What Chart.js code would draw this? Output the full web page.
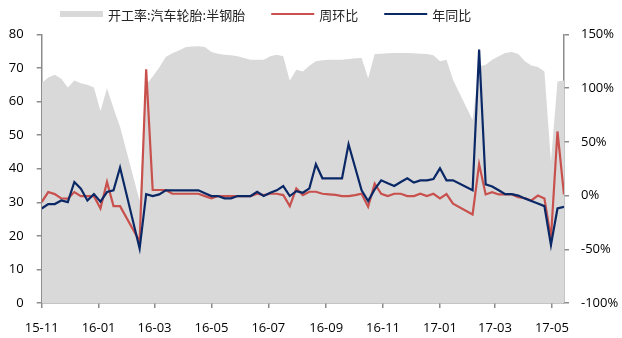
<!DOCTYPE html>
<html lang="zh-CN">
<head>
<meta charset="utf-8">
<title>开工率:汽车轮胎:半钢胎</title>
<script src="https://cdn.jsdelivr.net/npm/chart.js@4/dist/chart.umd.min.js"></script>
<style>
  html, body { margin: 0; padding: 0; background: #ffffff; }
  canvas { display: block; }
</style>
</head>
<body>
<canvas id="chart" width="622" height="338"></canvas>
<script>
// Weekly observation dates (Spring Festival weeks are not reported)
const weekDates = [
  '2015-11-06','2015-11-13','2015-11-20','2015-11-27','2015-12-04','2015-12-11','2015-12-18','2015-12-25',
  '2016-01-01','2016-01-08','2016-01-15','2016-01-22','2016-01-29','2016-02-19','2016-02-26',
  '2016-03-04','2016-03-11','2016-03-18','2016-03-25','2016-04-01','2016-04-08','2016-04-15','2016-04-22','2016-04-29',
  '2016-05-06','2016-05-13','2016-05-20','2016-05-27','2016-06-03','2016-06-10','2016-06-17','2016-06-24',
  '2016-07-01','2016-07-08','2016-07-15','2016-07-22','2016-07-29','2016-08-05','2016-08-12','2016-08-19','2016-08-26',
  '2016-09-02','2016-09-09','2016-09-16','2016-09-23','2016-09-30','2016-10-07','2016-10-14','2016-10-21','2016-10-28',
  '2016-11-04','2016-11-11','2016-11-18','2016-11-25','2016-12-02','2016-12-09','2016-12-16','2016-12-23','2016-12-30',
  '2017-01-06','2017-01-13','2017-01-20','2017-02-10','2017-02-17','2017-02-24',
  '2017-03-03','2017-03-10','2017-03-17','2017-03-24','2017-03-31','2017-04-07','2017-04-14','2017-04-21','2017-04-28',
  '2017-05-05','2017-05-12','2017-05-19'
];

// 开工率:汽车轮胎:半钢胎 (%), left axis
const utilization = [
  65.5, 67.2, 68.0, 66.8, 64.2, 66.3, 65.5, 65.0,
  64.2, 57.2, 64.0, 58.0, 52.5, 30.5, 65.0,
  67.5, 70.2, 73.3, 74.4, 75.2, 76.2, 76.4, 76.5, 76.3,
  74.8, 74.3, 74.0, 73.8, 73.5, 73.0, 72.5, 72.5,
  72.5, 73.5, 74.0, 73.5, 66.2, 69.5, 69.0, 70.7, 72.0,
  72.3, 72.5, 72.5, 72.5, 72.7, 72.9, 73.0, 67.0, 74.2,
  74.3, 74.4, 74.5, 74.5, 74.5, 74.4, 74.3, 74.2, 73.8,
  72.0, 72.5, 66.5, 54.5, 70.5, 71.0,
  72.5, 73.5, 74.5, 74.8, 74.2, 72.0, 70.8, 70.3, 69.0,
  42.0, 66.0, 66.3
];

// 周环比 (%), right axis
const weekOnWeek = [
  -6.0, 3.3, 1.4, -2.6, -2.9, 3.3, -0.5, -0.5,
  -0.5, -12.0, 12.7, -9.8, -9.8, -42.6, 117.5,
  5.2, 5.2, 5.2, 1.7, 1.7, 1.7, 1.7, 1.7, -0.5,
  -2.6, -0.4, -0.4, -0.4, -0.4, -0.4, -0.4, 1.7,
  0.5, 1.7, 1.7, 0.5, -9.8, 6.7, 0.5, 3.6, 3.6,
  1.7, 1.2, 0.7, -0.4, -0.4, 0.5, 1.7, -10.4, 11.1,
  1.7, -0.4, 1.7, 1.7, -0.4, -0.4, 1.7, -0.4, 1.7,
  -2.6, 1.4, -7.5, -17.5, 29.3, 1.1,
  3.2, 1.1, 1.1, 1.1, -1.5, -2.5, -4.5, 0.0, -2.8,
  -39.7, 59.7, 1.1
];

// 年同比 (%), right axis
const yearOnYear = [
  -12.0, -7.9, -7.9, -4.5, -6.1, 12.7, 6.4, -4.5,
  1.4, -5.7, 3.3, 4.9, 26.1, -49.4, 1.4,
  -0.5, 1.1, 4.9, 4.9, 4.9, 4.9, 4.9, 4.9, 2.2,
  -0.4, -0.4, -2.6, -2.6, -0.4, -0.4, -0.4, 3.5,
  -0.4, 2.7, 4.9, 8.9, -0.4, 4.2, 2.7, 6.7, 29.2,
  16.1, 16.1, 16.1, 16.1, 47.9, 26.4, 4.9, -5.1, 5.8,
  14.2, 11.4, 8.9, 12.7, 16.1, 12.1, 14.2, 14.2, 15.5,
  25.4, 14.2, 14.2, 5.0, 136.0, 10.5,
  8.5, 5.0, 1.4, 1.4, 0.0, -2.6, -5.0, -7.4, -9.8,
  -46.0, -12.0, -10.4
];

// Date-axis ticks every two months
const tickDates = ['2015-11-06','2016-01-06','2016-03-06','2016-05-06','2016-07-06','2016-09-06','2016-11-06','2017-01-06','2017-03-06','2017-05-06'];
const tickLabels = ['15-11','16-01','16-03','16-05','16-07','16-09','16-11','17-01','17-03','17-05'];

const seriesNames = ['开工率:汽车轮胎:半钢胎', '周环比', '年同比'];

const DAY = 86400000;
const t0 = Date.parse(weekDates[0] + 'T00:00:00Z');
const dayOf = d => Math.round((Date.parse(d + 'T00:00:00Z') - t0) / DAY);
const xs = weekDates.map(dayOf);
const tickDays = tickDates.map(dayOf);
const toPoints = vals => vals.map((v, i) => ({ x: xs[i], y: v }));

const AXIS = '#8c8c8c';
const TEXT = '#000000';

// Legend drawn across the top: grey block for the area, short strokes for the lines
const topLegend = {
  id: 'topLegend',
  afterDraw(chart) {
    const ctx = chart.ctx;
    ctx.save();
    ctx.font = '13px "Noto Sans CJK SC", sans-serif';
    ctx.textBaseline = 'middle';
    ctx.textAlign = 'left';
    const cy = 14;
    let x = 60;
    chart.data.datasets.forEach(ds => {
      if (ds.fill) {
        ctx.fillStyle = ds.backgroundColor;
        ctx.fillRect(x, cy - 3, 43, 6);
      } else {
        ctx.strokeStyle = ds.borderColor;
        ctx.lineWidth = ds.borderWidth;
        ctx.beginPath();
        ctx.moveTo(x, cy);
        ctx.lineTo(x + 43, cy);
        ctx.stroke();
      }
      ctx.fillStyle = '#262626';
      ctx.fillText(ds.label, x + 48, cy + 1);
      x += 48 + ctx.measureText(ds.label).width + 26;
    });
    ctx.restore();
  }
};

Chart.defaults.font.family = '"Open Sans", "Noto Sans CJK SC", sans-serif';
Chart.defaults.font.size = 13;
Chart.defaults.color = TEXT;

new Chart(document.getElementById('chart'), {
  type: 'line',
  data: {
    datasets: [
      {
        label: seriesNames[0],
        data: toPoints(utilization),
        yAxisID: 'y',
        fill: 'origin',
        backgroundColor: '#d9d9d9',
        borderWidth: 0,
        borderColor: 'rgba(0,0,0,0)',
        pointRadius: 0,
        tension: 0,
        order: 3
      },
      {
        label: seriesNames[1],
        data: toPoints(weekOnWeek),
        yAxisID: 'y1',
        fill: false,
        borderColor: '#c8504d',
        backgroundColor: '#c8504d',
        borderWidth: 2.2,
        pointRadius: 0,
        tension: 0,
        order: 2
      },
      {
        label: seriesNames[2],
        data: toPoints(yearOnYear),
        yAxisID: 'y1',
        fill: false,
        borderColor: '#0b2866',
        backgroundColor: '#0b2866',
        borderWidth: 2.2,
        pointRadius: 0,
        tension: 0,
        order: 1
      }
    ]
  },
  options: {
    responsive: false,
    devicePixelRatio: 1,
    animation: false,
    layout: { padding: { top: 34.5, left: 0, right: 0, bottom: 0 } },
    plugins: {
      legend: { display: false },
      tooltip: { enabled: false }
    },
    scales: {
      x: {
        type: 'linear',
        min: 0,
        max: xs[xs.length - 1],
        afterBuildTicks: s => { s.ticks = tickDays.map(v => ({ value: v })); },
        afterFit: s => { s.height = 35; },
        ticks: {
          autoSkip: false,
          maxRotation: 0,
          padding: 12,
          callback: (v, i) => tickLabels[i]
        },
        grid: { drawOnChartArea: false, drawTicks: true, tickLength: 5, color: AXIS, lineWidth: 1.5 },
        border: { display: true, color: AXIS, width: 1.5 }
      },
      y: {
        position: 'left',
        min: 0,
        max: 80,
        afterFit: s => { s.width = 41.7; },
        ticks: { stepSize: 10, padding: 13 },
        grid: { drawOnChartArea: false, drawTicks: true, tickLength: 5, color: AXIS, lineWidth: 1.5 },
        border: { display: true, color: AXIS, width: 1.5 }
      },
      y1: {
        position: 'right',
        min: -100,
        max: 150,
        afterFit: s => { s.width = 58; },
        ticks: { stepSize: 50, padding: 12, callback: v => v + '%' },
        grid: { drawOnChartArea: false, drawTicks: true, tickLength: 5, color: AXIS, lineWidth: 1.5 },
        border: { display: true, color: AXIS, width: 1.5 }
      }
    }
  },
  plugins: [topLegend]
});
</script>
</body>
</html>
